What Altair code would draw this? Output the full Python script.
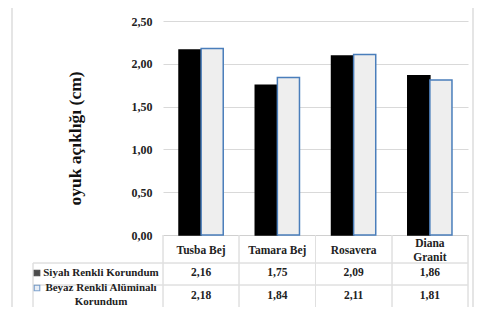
import altair as alt
import pandas as pd

categories = ["Tusba Bej", "Tamara Bej", "Rosavera", "Diana Granit"]
series = ["Siyah Renkli Korundum", "Beyaz Renkli Alüminalı Korundum"]
siyah = [2.16, 1.75, 2.09, 1.86]
beyaz = [2.18, 1.84, 2.11, 1.81]
y_ticks = [0.0, 0.5, 1.0, 1.5, 2.0, 2.5]
legend_labels = ["Siyah Renkli Korundum", "Beyaz Renkli Alüminalı\nKorundum"]

rows = []
for c, a, b in zip(categories, siyah, beyaz):
    rows.append({"cat": c, "series": series[0], "value": a})
    rows.append({"cat": c, "series": series[1], "value": b})
df = pd.DataFrame(rows)
df["label"] = df["value"].map(lambda v: f"{v:.2f}".replace(".", ","))

leg = pd.DataFrame({"series": series, "label": legend_labels})

FONT = "Liberation Serif"
W, H = 305, 214

xscale = alt.Scale(domain=categories, paddingInner=0.42, paddingOuter=0.21)

bars = alt.Chart(df).mark_bar(strokeWidth=1.5).encode(
    x=alt.X("cat:N", sort=categories, scale=xscale, title=None,
            axis=alt.Axis(labelAngle=0, ticks=False, domainColor="#d0d0d0",
                          labelFont=FONT, labelFontWeight="bold", labelFontSize=11.5,
                          labelColor="#222222", labelBaseline="middle",
                          labelPadding={"condition": {"test": "datum.value == 'Diana Granit'", "value": 8}, "value": 15},
                          labelLineHeight=14,
                          labelExpr="datum.value == 'Diana Granit' ? ['Diana', 'Granit'] : datum.value")),
    xOffset=alt.XOffset("series:N", sort=series, scale=alt.Scale(domain=series, paddingInner=0, paddingOuter=0)),
    y=alt.Y("value:Q", scale=alt.Scale(domain=[0, 2.5], nice=False),
            title="oyuk açıklığı (cm)",
            axis=alt.Axis(values=y_ticks, ticks=False, domain=False, gridColor="#d9d9d9",
                          labelExpr="replace(format(datum.value, '.2f'), '.', ',')",
                          labelFont=FONT, labelFontWeight="bold", labelFontSize=12,
                          labelColor="#222222", labelPadding=11,
                          titleFont=FONT, titleFontWeight="bold", titleFontSize=17.5,
                          titleColor="#111111", titleX=-88, titleY=117,
                          titleAlign="center", titleBaseline="middle", titleAngle=-90)),
    fill=alt.Fill("series:N", scale=alt.Scale(domain=series, range=["#000000", "#eeeeee"]), legend=None),
    stroke=alt.Stroke("series:N", scale=alt.Scale(domain=series, range=["#000000", "#4a7ebb"]), legend=None),
)

row_scale = alt.Scale(type="point", domain=series, range=[252, 275], padding=0)
leg_scale = alt.Scale(type="point", domain=series, range=[252, 267], padding=0)

values = alt.Chart(df).mark_text(font=FONT, fontWeight="bold", fontSize=11.5,
                                 color="#222222", baseline="middle").encode(
    x=alt.X("cat:N", sort=categories, scale=xscale),
    y=alt.Y("series:N", scale=row_scale, axis=None),
    text="label:N",
)

leg_text = alt.Chart(leg).mark_text(font=FONT, fontWeight="bold", fontSize=11,
                                    color="#222222", baseline="middle", align="center",
                                    lineBreak="\n", lineHeight=14).encode(
    x=alt.value(-62),
    y=alt.Y("series:N", scale=leg_scale, axis=None),
    text="label:N",
)

sym = alt.Chart(leg).mark_point(shape="square", filled=True, size=30, strokeWidth=1.2).encode(
    x=alt.value(-126),
    y=alt.Y("series:N", scale=leg_scale, axis=None),
    fill=alt.Fill("series:N", scale=alt.Scale(domain=series, range=["#000000", "#dde6f2"]), legend=None),
    stroke=alt.Stroke("series:N", scale=alt.Scale(domain=series, range=["#000000", "#4a7ebb"]), legend=None),
)

LINE = "#e0e0e0"
hlines = [
    alt.Chart(leg).mark_rule(color=LINE, strokeWidth=1).encode(
        x=alt.value(-130), x2=alt.value(W), y=alt.value(yy))
    for yy in [242, 264]
]
vlines = [
    alt.Chart(leg).mark_rule(color=LINE, strokeWidth=1).encode(
        x=alt.value(xx), y=alt.value(214), y2=alt.value(290))
    for xx in [0, 76, 152.5, 229, 305]
]
vleft = alt.Chart(leg).mark_rule(color=LINE, strokeWidth=1).encode(
    x=alt.value(-130), y=alt.value(242), y2=alt.value(290))
frame = alt.Chart(leg).mark_rect(fill=None, stroke="#e4e4e4", strokeWidth=1.5).encode(
    x=alt.value(-151), x2=alt.value(W + 5), y=alt.value(-16), y2=alt.value(290))

chart = alt.layer(frame, *hlines, *vlines, vleft, bars, values, leg_text, sym).resolve_scale(
    y="independent", fill="independent", stroke="independent"
).properties(
    width=W, height=H,
    autosize=alt.AutoSizeParams(type="none"),
    padding={"left": 155, "top": 13, "right": 7, "bottom": 72},
    background="white",
).configure_view(stroke=None)

chart.save("out.html", embed_options={"renderer": "svg", "actions": False})
